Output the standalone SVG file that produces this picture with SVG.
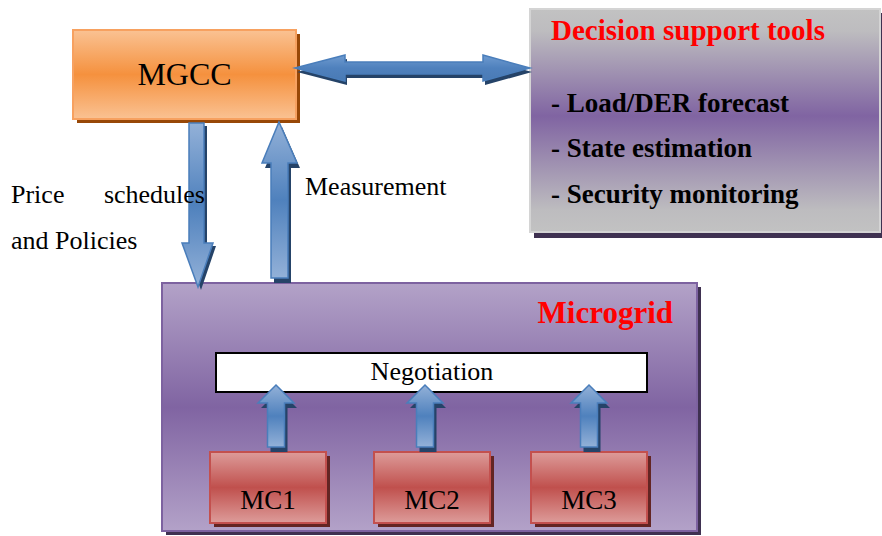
<svg xmlns="http://www.w3.org/2000/svg" width="882" height="536" viewBox="0 0 882 536">
<defs>
<linearGradient id="gOrange" x1="0" y1="0" x2="0" y2="1">
<stop offset="0" stop-color="#fac293"/><stop offset="0.5" stop-color="#f5913e"/><stop offset="1" stop-color="#fac293"/>
</linearGradient>
<linearGradient id="gGrayPurple" x1="0" y1="0" x2="0" y2="1">
<stop offset="0" stop-color="#c2c2c2"/><stop offset="0.1" stop-color="#bdbcbf"/><stop offset="0.48" stop-color="#8064a2"/><stop offset="0.9" stop-color="#bdbcbf"/><stop offset="1" stop-color="#c2c2c2"/>
</linearGradient>
<linearGradient id="gPurple" x1="0" y1="0" x2="0" y2="1">
<stop offset="0" stop-color="#b3a2c8"/><stop offset="0.5" stop-color="#8064a2"/><stop offset="1" stop-color="#b3a2c8"/>
</linearGradient>
<linearGradient id="gRed" x1="0" y1="0" x2="0" y2="1">
<stop offset="0" stop-color="#dd9c9a"/><stop offset="0.5" stop-color="#c0504d"/><stop offset="1" stop-color="#dd9c9a"/>
</linearGradient>
<linearGradient id="gBlueV" x1="0" y1="0" x2="0" y2="1">
<stop offset="0" stop-color="#93b1d8"/><stop offset="0.5" stop-color="#4f81bd"/><stop offset="1" stop-color="#93b1d8"/>
</linearGradient>
<linearGradient id="gBlueH" x1="0" y1="0" x2="0" y2="1">
<stop offset="0" stop-color="#6f9bd0"/><stop offset="0.5" stop-color="#4f81bd"/><stop offset="1" stop-color="#4a7ab4"/>
</linearGradient>
<path id="smallArrow" d="M0,0 L18,18 H8.5 V62 H-8.5 V18 H-18 Z"/>
</defs>
<style>
.lbl{font-family:"Liberation Serif","Times New Roman",serif;fill:#000;}
.bold{font-family:"Liberation Serif","Times New Roman",serif;font-weight:bold;fill:#000;}
.red{fill:#ff0000;}
.arrow{fill:url(#gBlueV);stroke:#4a7ebb;stroke-width:1.5;}
.arrowH{fill:url(#gBlueH);stroke:#4a7ebb;stroke-width:1.5;}
.ashadow{fill:#254368;}
.mc{fill:url(#gRed);stroke:#c3504e;stroke-width:2;}
.mcshadow{fill:#632523;}
</style>

<g id="microgrid">
<rect x="166" y="287" width="535" height="248" fill="#3f3151"/>
<rect x="162" y="283" width="535" height="248" fill="url(#gPurple)" stroke="#7d62a0" stroke-width="2"/>
<text x="673" y="323" text-anchor="end" class="bold red" style="font-size:31px">Microgrid</text>
</g>

<g id="negotiation">
<rect x="216" y="353" width="431" height="39" fill="#ffffff" stroke="#000" stroke-width="2"/>
<text x="432" y="380" text-anchor="middle" class="lbl" style="font-size:26px">Negotiation</text>
</g>

<g id="mc1">
<rect x="214" y="456" width="116" height="71" class="mcshadow"/>
<rect x="210" y="452" width="116" height="71" class="mc"/>
<text x="268" y="509" text-anchor="middle" class="lbl" style="font-size:27px">MC1</text>
</g>
<g id="mc2">
<rect x="378" y="456" width="116" height="71" class="mcshadow"/>
<rect x="374" y="452" width="116" height="71" class="mc"/>
<text x="432" y="509" text-anchor="middle" class="lbl" style="font-size:27px">MC2</text>
</g>
<g id="mc3">
<rect x="535" y="456" width="116" height="71" class="mcshadow"/>
<rect x="531" y="452" width="116" height="71" class="mc"/>
<text x="589" y="509" text-anchor="middle" class="lbl" style="font-size:27px">MC3</text>
</g>

<g id="mgcc">
<rect x="77" y="34" width="223" height="89" fill="#984807"/>
<rect x="73" y="30" width="223" height="89" fill="url(#gOrange)" stroke="#f7a160" stroke-width="2"/>
<text x="184.5" y="85" text-anchor="middle" class="lbl" style="font-size:32px">MGCC</text>
</g>

<g id="decision-support">
<rect x="534" y="13" width="350" height="225" fill="#3f3151"/>
<rect x="530" y="9" width="350" height="223" fill="url(#gGrayPurple)" stroke="#d4d4d4" stroke-width="2"/>
<text x="551" y="40" class="bold red" style="font-size:29px">Decision support tools</text>
<text x="551" y="112" class="bold" style="font-size:27px">- Load/DER forecast</text>
<text x="551" y="157" class="bold" style="font-size:27px">- State estimation</text>
<text x="551" y="203" class="bold" style="font-size:27px">- Security monitoring</text>
</g>

<g id="connectors">
<path class="ashadow" transform="translate(2,4)" d="M295,68 L345,55 V62 H483 V55 L530,68 L483,81 V74 H345 V81 Z"/>
<path class="arrowH" d="M295,68 L345,55 V62 H483 V55 L530,68 L483,81 V74 H345 V81 Z"/>
<path class="ashadow" transform="translate(3,3)" d="M189,123 H204 V243 H213 L198,287 L182,243 H189 Z"/>
<path class="arrow" d="M189,123 H204 V243 H213 L198,287 L182,243 H189 Z"/>
<path class="ashadow" transform="translate(3,5)" d="M279,122 L297,163 H288 V278 H271 V163 H262 Z"/>
<path class="arrow" d="M279,122 L297,163 H288 V278 H271 V163 H262 Z"/>
<use href="#smallArrow" class="ashadow" x="279" y="390"/>
<use href="#smallArrow" class="arrow" x="276" y="385"/>
<use href="#smallArrow" class="ashadow" x="428" y="390"/>
<use href="#smallArrow" class="arrow" x="425" y="385"/>
<use href="#smallArrow" class="ashadow" x="592" y="390"/>
<use href="#smallArrow" class="arrow" x="589" y="385"/>
</g>

<g id="labels">
<text x="11" y="203" class="lbl" style="font-size:26px">Price</text>
<text x="205" y="203" text-anchor="end" class="lbl" style="font-size:26px">schedules</text>
<text x="11" y="249" class="lbl" style="font-size:26px">and Policies</text>
<text x="305" y="195" class="lbl" style="font-size:26px">Measurement</text>
</g>
</svg>
